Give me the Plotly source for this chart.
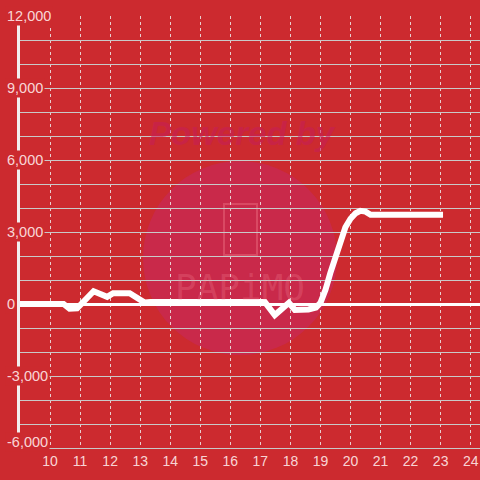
import plotly.graph_objects as go

# ---- data ----
hours = [9.0, 10.45, 10.65, 10.9, 11.45, 11.9, 12.1, 12.65, 13.15, 13.35,
         17.15, 17.48, 17.95, 18.15, 18.6, 18.85, 19.0, 19.17, 19.33, 19.5,
         19.67, 19.83, 20.0, 20.17, 20.33, 20.5, 20.67, 23.08]
values = [0, 0, -200, -180, 530, 300, 450, 450, 60, 80,
          80, -460, 50, -250, -230, -150, 50, 600, 1300, 1950,
          2600, 3200, 3550, 3780, 3880, 3850, 3720, 3720]

x_ticks = list(range(10, 25))
y_tick_vals = [12000, 9000, 6000, 3000, 0, -3000, -6000]
y_tick_text = ["12,000", "9,000", "6,000", "3,000", "0", "-3,000", "-6,000"]

BG = "#cc2a2f"
LABEL = "rgba(255,235,235,0.9)"

fig = go.Figure()
fig.add_trace(go.Scatter(x=hours, y=values, mode="lines",
                         line=dict(color="white", width=6),
                         hoverinfo="skip", showlegend=False))

W, H = 480, 480
L, R, T, B = 20, 0, 16, 32
pw, ph = W - L - R, H - T - B

def px(xp):
    return (xp - L) / pw

def py(yp):
    return (H - B - yp) / ph

# watermark
fig.add_shape(type="circle", xref="paper", yref="paper",
              x0=px(143), x1=px(337), y0=py(355), y1=py(161),
              fillcolor="#c9294a", line=dict(width=0), layer="below")
fig.add_shape(type="rect", xref="paper", yref="paper",
              x0=px(224), x1=px(257), y0=py(255), y1=py(204),
              line=dict(color="rgba(255,150,160,0.3)", width=2),
              fillcolor="rgba(0,0,0,0)", layer="below")

annotations = [
    dict(text="Powered by", xref="paper", yref="paper", x=px(242), y=py(133),
         xanchor="center", yanchor="middle", showarrow=False,
         font=dict(family="Liberation Sans", size=33, color="rgba(198,30,90,0.55)",
                   weight="bold", style="italic")),
    dict(text="PAPiMO", xref="paper", yref="paper", x=px(240), y=py(287),
         xanchor="center", yanchor="middle", showarrow=False,
         font=dict(family="DejaVu Sans Mono", size=36, color="rgba(255,150,165,0.22)")),
]
for v, t in zip(y_tick_vals, y_tick_text):
    annotations.append(dict(
        text=t, xref="paper", yref="y", x=0, y=v, xanchor="left", yanchor="middle",
        xshift=-15, yshift=6 if v == min(y_tick_vals) else 0, showarrow=False,
        bgcolor=BG, borderpad=1,
        font=dict(family="Liberation Sans", size=14.5, color=LABEL)))

fig.update_layout(
    width=W, height=H,
    margin=dict(l=L, r=R, t=T, b=B, autoexpand=False),
    paper_bgcolor=BG, plot_bgcolor=BG,
    showlegend=False,
    annotations=annotations,
    xaxis=dict(range=[9, 24.31], tickvals=x_ticks, ticktext=[str(v) for v in x_ticks],
               automargin=False,
               showgrid=True, gridcolor="rgba(235,225,225,0.9)", gridwidth=1,
               griddash="dot", zeroline=False,
               showline=True, linecolor="#c8c8c8", linewidth=1,
               ticks="", tickfont=dict(family="Liberation Sans", size=14, color=LABEL)),
    yaxis=dict(range=[-6000, 12000], dtick=1000, tick0=0, automargin=False,
               showticklabels=False, ticks="",
               showgrid=True, gridcolor="#c9c9c9", gridwidth=1,
               zeroline=True, zerolinecolor="white", zerolinewidth=3,
               showline=True, linecolor="#f2eeee", linewidth=3),
)

fig.write_html("out.html", config={"displayModeBar": False},
               post_script="document.body.style.margin='0';document.body.style.overflow='hidden';")
